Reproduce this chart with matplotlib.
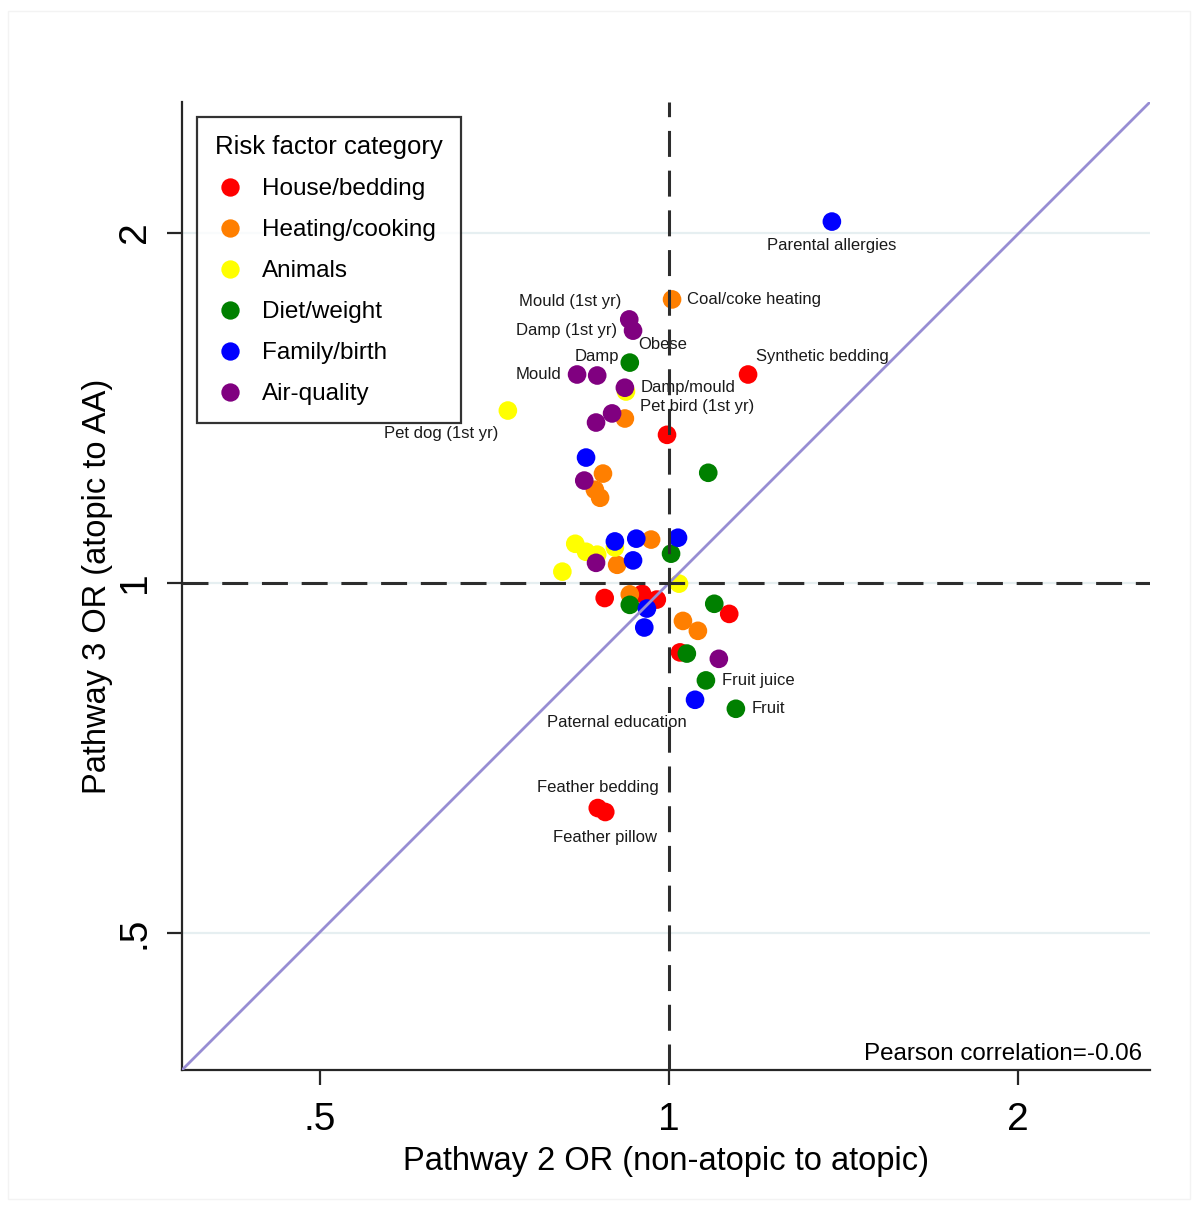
import matplotlib
matplotlib.use("Agg")
import matplotlib.pyplot as plt
from matplotlib.patches import Rectangle
from matplotlib.lines import Line2D

plt.rcParams['font.family'] = ['Liberation Sans', 'DejaVu Sans']

# ---------------- data ----------------
categories = ["House/bedding", "Heating/cooking", "Animals", "Diet/weight", "Family/birth", "Air-quality"]
colors = ["#ff0000", "#ff7f00", "#ffff00", "#008000", "#0000ff", "#800080"]

house_x = [1.17, 0.996, 0.88, 0.948, 0.976, 1.127, 1.022, 0.868, 0.881]
house_y = [1.51, 1.34, 0.97, 0.978, 0.967, 0.940, 0.871, 0.640, 0.635]
house_lab = ["Synthetic bedding", "", "", "", "", "", "", "Feather bedding", "Feather pillow"]

heat_x = [1.006, 0.916, 0.877, 0.863, 0.872, 0.965, 0.902, 0.925, 1.028, 1.059]
heat_y = [1.752, 1.384, 1.241, 1.202, 1.183, 1.089, 1.036, 0.977, 0.927, 0.909]
heat_lab = ["Coal/coke heating", "", "", "", "", "", "", "", "", ""]

anim_x = [0.726, 0.830, 0.848, 0.867, 0.898, 0.809, 1.020, 0.918]
anim_y = [1.406, 1.080, 1.063, 1.057, 1.072, 1.022, 0.998, 1.460]
anim_lab = ["Pet dog (1st yr)", "", "", "", "", "", "", "Pet bird (1st yr)"]

diet_x = [0.925, 1.081, 1.004, 0.925, 1.094, 1.036, 1.076, 1.142]
diet_y = [1.546, 1.243, 1.059, 0.957, 0.959, 0.869, 0.824, 0.779]
diet_lab = ["Obese", "", "", "", "", "", "Fruit juice", "Fruit"]

fam_x = [1.382, 0.848, 0.898, 0.937, 1.018, 0.931, 0.957, 0.952, 1.053]
fam_y = [2.044, 1.281, 1.085, 1.091, 1.093, 1.045, 0.950, 0.915, 0.793]
fam_lab = ["Parental allergies", "", "", "", "", "", "", "", "Paternal education"]

air_x = [0.924, 0.931, 0.833, 0.867, 0.916, 0.893, 0.865, 0.845, 0.865, 1.104]
air_y = [1.684, 1.647, 1.510, 1.507, 1.471, 1.398, 1.373, 1.224, 1.040, 0.860]
air_lab = ["Mould (1st yr)", "Damp (1st yr)", "Mould", "Damp", "Damp/mould", "", "", "", "", ""]

x_ticks = [0.5, 1, 2]
x_ticklabels = [".5", "1", "2"]
y_ticks = [0.5, 1, 2]
y_ticklabels = [".5", "1", "2"]
pearson_text = "Pearson correlation=-0.06"

# label placement (offset in points, horizontal alignment)
label_pos = {
    "Parental allergies": (0, -17, "center"),
    "Coal/coke heating": (11, 0, "left"),
    "Synthetic bedding": (6, 13, "left"),
    "Mould (1st yr)": (-6, 13, "right"),
    "Damp (1st yr)": (-11.5, 0, "right"),
    "Obese": (6, 13, "left"),
    "Damp": (0, 14, "center"),
    "Mould": (-11, 0, "right"),
    "Damp/mould": (11, 0, "left"),
    "Pet bird (1st yr)": (10, -11, "left"),
    "Pet dog (1st yr)": (-6.5, -16.5, "right"),
    "Fruit juice": (11.5, 0, "left"),
    "Fruit": (11.5, 0, "left"),
    "Paternal education": (-6, -16.5, "right"),
    "Feather bedding": (0, 15, "center"),
    "Feather pillow": (0, -18, "center"),
}

series = [(house_x, house_y, house_lab), (heat_x, heat_y, heat_lab), (anim_x, anim_y, anim_lab),
          (diet_x, diet_y, diet_lab), (fam_x, fam_y, fam_lab), (air_x, air_y, air_lab)]

# ---------------- figure ----------------
W, H = 1198, 1205
fig = plt.figure(figsize=(W / 100, H / 100), dpi=100)
fig.patches.append(Rectangle((8 / W, 1 - 1199 / H), 1182 / W, 1188 / H, transform=fig.transFigure,
                             fill=False, edgecolor="#f3f3f3", linewidth=1))
ax = fig.add_axes([182 / W, 1 - 1070 / H, 968 / W, 968 / H])
ax.set_xscale("log")
ax.set_yscale("log")
xlo, xhi = 0.380, 2.60
ylo, yhi = 0.381, 2.59
ax.set_xlim(xlo, xhi)
ax.set_ylim(ylo, yhi)

for yt in y_ticks:
    ax.axhline(yt, color="#e6eff1", linewidth=1.6, zorder=0)

for (xs, ys, labs), c in zip(series, colors):
    ax.scatter(xs, ys, s=180, color=c, edgecolors="none", zorder=2)
    for x, y, lab in zip(xs, ys, labs):
        if lab:
            dx, dy, ha = label_pos[lab]
            ax.annotate(lab, (x, y), xytext=(dx, dy), textcoords="offset points",
                        ha=ha, va="center", fontsize=12, color="#1a1a1a", zorder=3)

ax.plot([xlo, xhi], [ylo, yhi], color="#978dd3", linewidth=2.0, zorder=4, solid_capstyle="butt")
ax.axvline(1, color="#2d2d2d", linewidth=2.2, dashes=(8.5, 4.5), zorder=5)
ax.axhline(1, color="#2d2d2d", linewidth=2.2, dashes=(8.5, 4.5), zorder=5)

ax.spines["top"].set_visible(False)
ax.spines["right"].set_visible(False)
for s in ("left", "bottom"):
    ax.spines[s].set_linewidth(1.6)
    ax.spines[s].set_color("#262626")

ax.minorticks_off()
ax.set_xticks(x_ticks)
ax.set_xticklabels(x_ticklabels)
ax.set_yticks(y_ticks)
ax.set_yticklabels(y_ticklabels, rotation=90, va="center")
ax.tick_params(axis="both", which="major", length=11, width=1.6, color="#262626", labelsize=28)
ax.tick_params(axis="x", pad=12)
ax.tick_params(axis="y", pad=10)

ax.set_xlabel("Pathway 2 OR (non-atopic to atopic)", fontsize=23.5)
ax.set_ylabel("Pathway 3 OR (atopic to AA)", fontsize=23.5)
ax.xaxis.set_label_coords(0.5, -0.0785)
ax.yaxis.set_label_coords(-0.0713, 0.5)

ax.text(0.9917, 0.0165, pearson_text, transform=ax.transAxes, ha="right", va="center", fontsize=17.4)

handles = [Line2D([], [], linestyle="none", marker="o", markersize=13.2, markerfacecolor=c,
                  markeredgecolor="none") for c in colors]
leg = ax.legend(handles, categories, title="Risk factor category", loc="upper left",
                bbox_to_anchor=(15 / 968, 1 - 15 / 968), borderaxespad=0, fontsize=17.5,
                title_fontsize=18.5, frameon=True, fancybox=False, edgecolor="black",
                borderpad=0.75, handlelength=1.23, handletextpad=0.70, labelspacing=0.78,
                alignment="left")
leg.get_frame().set_linewidth(1.6)
leg.set_zorder(6)

fig.savefig("out.png", dpi=100, facecolor="white")
